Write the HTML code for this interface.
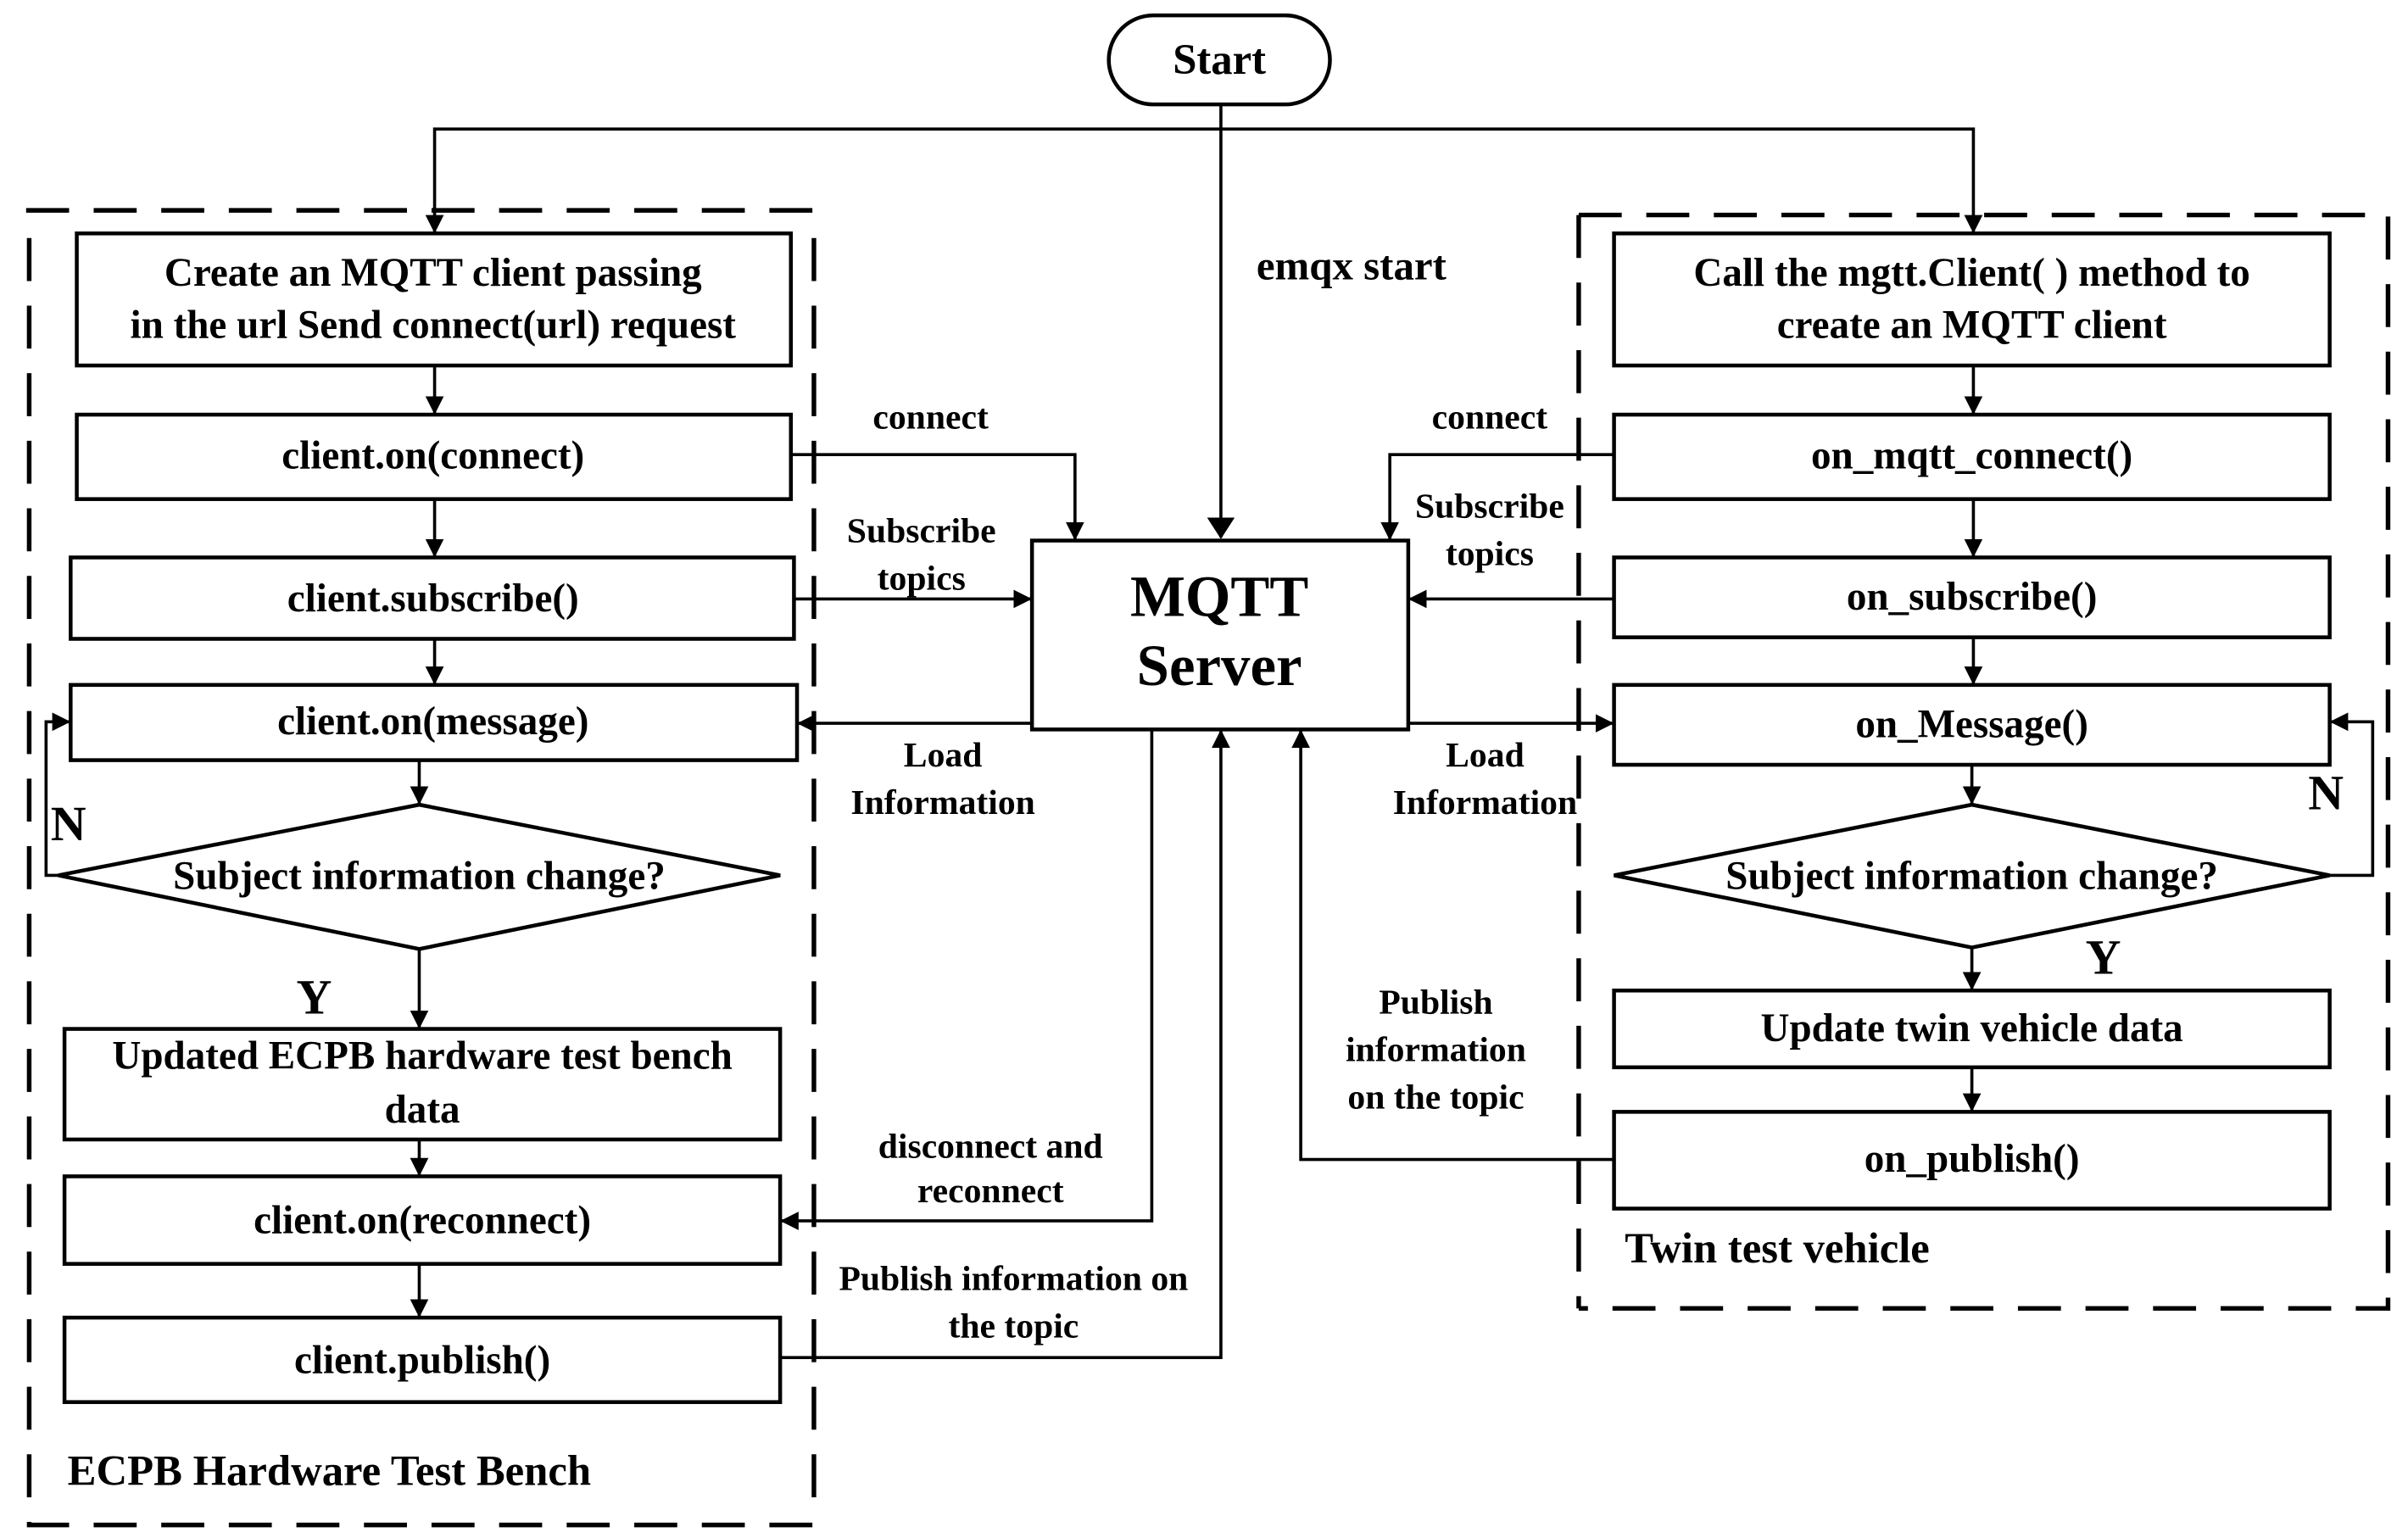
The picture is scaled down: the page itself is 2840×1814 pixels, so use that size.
<!DOCTYPE html>
<html><head><meta charset="utf-8"><style>html,body{margin:0;padding:0;background:#fff}svg{display:block}text{font-family:"Liberation Serif",serif;font-weight:bold}</style></head><body>
<svg width="2840" height="1814" viewBox="0 0 1568 1001.5" preserveAspectRatio="none" xmlns="http://www.w3.org/2000/svg" style="font-family:'Liberation Serif',serif;font-weight:bold">
<defs><marker id="a" markerWidth="12" markerHeight="12" refX="11" refY="6" orient="auto" markerUnits="userSpaceOnUse"><path d="M0,0 L12,6 L0,12 z" fill="#000"/></marker>
<marker id="b" markerWidth="14" markerHeight="18" refX="13" refY="9" orient="auto" markerUnits="userSpaceOnUse"><path d="M0,0 L14,9 L0,18 z" fill="#000"/></marker></defs>
<g fill="none" stroke="#000" stroke-width="3" stroke-dasharray="28,16">
<path d="M17,137 H530 M19,155 V993 H530 M530,155 V975"/>
<path d="M1028,140 H1555 V852 H1028 M1028,140 V852"/>
</g>
<g fill="none" stroke="#000" stroke-width="2.5">
<rect x="722" y="10" width="144" height="58" rx="29"/>
<rect x="50" y="152" width="465" height="86"/>
<rect x="50" y="270" width="465" height="55"/>
<rect x="46" y="363" width="471" height="53"/>
<rect x="46" y="446" width="473" height="49"/>
<path d="M38,570 L273,524 L508,570 L273,618 Z"/>
<rect x="42" y="670" width="466" height="72"/>
<rect x="42" y="766" width="466" height="57"/>
<rect x="42" y="858" width="466" height="55"/>
<rect x="672" y="352" width="245" height="123"/>
<rect x="1051" y="152" width="466" height="86"/>
<rect x="1051" y="270" width="466" height="55"/>
<rect x="1051" y="363" width="466" height="52"/>
<rect x="1051" y="446" width="466" height="52"/>
<path d="M1051,570 L1284,524 L1517,570 L1284,617 Z"/>
<rect x="1051" y="645" width="466" height="50"/>
<rect x="1051" y="724" width="466" height="63"/>
</g>
<g fill="none" stroke="#000" stroke-width="2" marker-end="url(#a)">
<path d="M795,68 V350" marker-end="url(#b)"/>
<path d="M795,84 H283 V151"/>
<path d="M795,84 H1285 V151"/>
<path d="M283,238 V269"/><path d="M283,325 V362"/><path d="M283,416 V445"/>
<path d="M273,495 V523"/><path d="M273,618 V669"/><path d="M273,742 V765"/><path d="M273,823 V857"/>
<path d="M38,570 H30 V470 H45"/>
<path d="M515,296 H700 V351"/>
<path d="M517,390 H671"/>
<path d="M672,471 H520"/>
<path d="M750,475 V795 H509"/>
<path d="M508,884 H795 V476"/>
<path d="M1285,238 V269"/><path d="M1285,325 V362"/><path d="M1285,415 V445"/>
<path d="M1284,498 V523"/><path d="M1284,617 V644"/><path d="M1284,695 V723"/>
<path d="M1517,570 H1545 V470 H1518"/>
<path d="M1051,296 H905 V351"/>
<path d="M1051,390 H918"/>
<path d="M917,471 H1050"/>
<path d="M1051,755 H847 V476"/>
</g>
<g font-size="26" text-anchor="middle" fill="#000">
<text x="794" y="48" font-size="28">Start</text>
<text x="282" y="186">Create an MQTT client passing</text>
<text x="282" y="220">in the url Send connect(url) request</text>
<text x="282" y="305">client.on(connect)</text>
<text x="282" y="398">client.subscribe()</text>
<text x="282" y="478">client.on(message)</text>
<text x="273" y="579">Subject information change?</text>
<text x="275" y="696">Updated ECPB hardware test bench</text>
<text x="275" y="731">data</text>
<text x="275" y="803">client.on(reconnect)</text>
<text x="275" y="894">client.publish()</text>
<text x="794" y="401" font-size="38">MQTT</text>
<text x="794" y="446" font-size="38">Server</text>
<text x="1284" y="186">Call the mgtt.Client( ) method to</text>
<text x="1284" y="220">create an MQTT client</text>
<text x="1284" y="305">on_mqtt_connect()</text>
<text x="1284" y="397">on_subscribe()</text>
<text x="1284" y="480">on_Message()</text>
<text x="1284" y="579">Subject information change?</text>
<text x="1284" y="678">Update twin vehicle data</text>
<text x="1284" y="763">on_publish()</text>
</g>
<g font-size="23" text-anchor="middle" fill="#000">
<text x="606" y="279">connect</text>
<text x="600" y="353">Subscribe</text><text x="600" y="384">topics</text>
<text x="614" y="499">Load</text><text x="614" y="530">Information</text>
<text x="645" y="754">disconnect and</text><text x="645" y="783">reconnect</text>
<text x="660" y="840">Publish information on</text><text x="660" y="871">the topic</text>
<text x="970" y="279">connect</text>
<text x="970" y="337">Subscribe</text><text x="970" y="368">topics</text>
<text x="967" y="499">Load</text><text x="967" y="530">Information</text>
<text x="935" y="660">Publish</text><text x="935" y="691">information</text><text x="935" y="722">on the topic</text>
<text x="880" y="182" font-size="27">emqx start</text>
</g>
<g font-size="32" fill="#000">
<text x="33" y="547">N</text><text x="193" y="660">Y</text>
<text x="1503" y="527">N</text><text x="1358" y="634">Y</text>
<text x="1058" y="822" font-size="28">Twin test vehicle</text>
<text x="44" y="967" font-size="28">ECPB Hardware Test Bench</text>
</g>
</svg>
</body></html>
